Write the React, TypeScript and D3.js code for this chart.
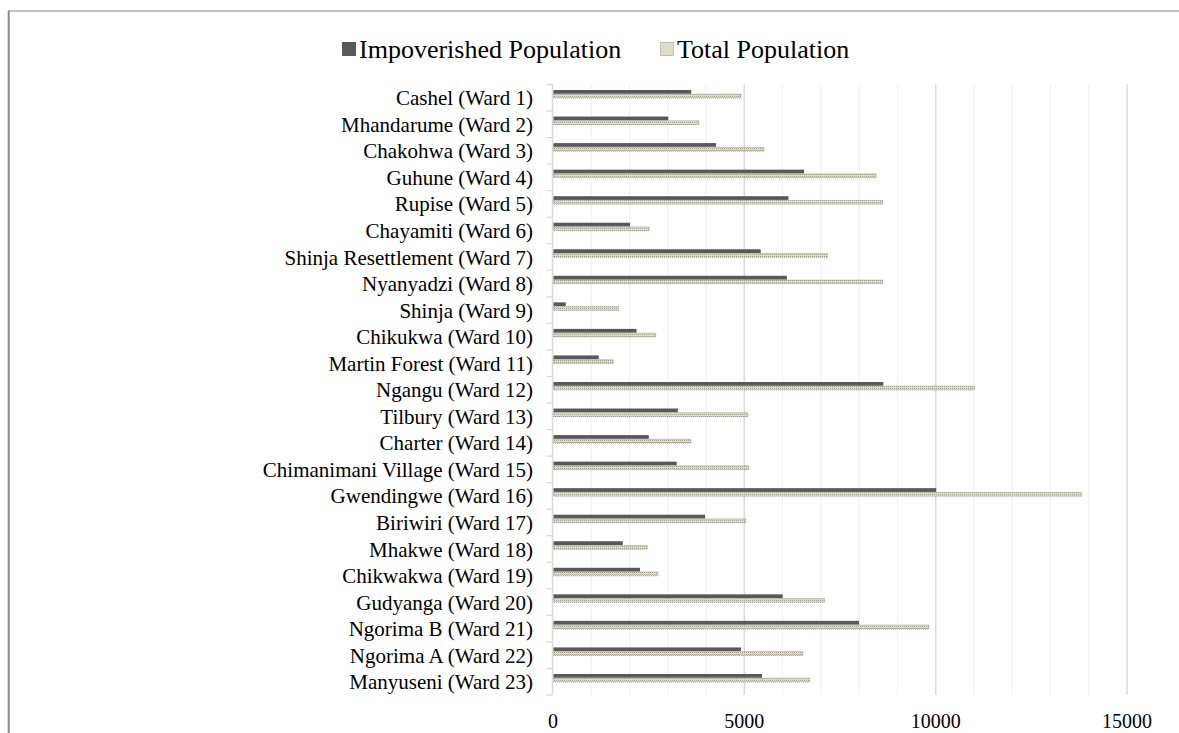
import React from "react";
import * as d3 from "d3";

const categories: string[] = [
  "Cashel (Ward 1)",
  "Mhandarume (Ward 2)",
  "Chakohwa (Ward 3)",
  "Guhune (Ward 4)",
  "Rupise (Ward 5)",
  "Chayamiti (Ward 6)",
  "Shinja Resettlement (Ward 7)",
  "Nyanyadzi (Ward 8)",
  "Shinja (Ward 9)",
  "Chikukwa (Ward 10)",
  "Martin Forest (Ward 11)",
  "Ngangu (Ward 12)",
  "Tilbury (Ward 13)",
  "Charter (Ward 14)",
  "Chimanimani Village (Ward 15)",
  "Gwendingwe (Ward 16)",
  "Biriwiri (Ward 17)",
  "Mhakwe (Ward 18)",
  "Chikwakwa (Ward 19)",
  "Gudyanga (Ward 20)",
  "Ngorima B (Ward 21)",
  "Ngorima A (Ward 22)",
  "Manyuseni (Ward 23)",
];

const impoverished: number[] = [
  3600, 3000, 4250, 6550, 6140, 2000, 5415, 6100, 320, 2170, 1180, 8620,
  3250, 2490, 3220, 10000, 3960, 1810, 2260, 5990, 7985, 4900, 5450,
];

const totalPop: number[] = [
  4900, 3800, 5500, 8430, 8600, 2500, 7157, 8600, 1700, 2670, 1560, 11000,
  5080, 3590, 5100, 13800, 5020, 2450, 2730, 7080, 9810, 6520, 6700,
];

const seriesNames: string[] = ["Impoverished Population", "Total Population"];
const xTicks: number[] = [0, 5000, 10000, 15000];

const W = 1179;
const H = 733;
const TOP = 84.5;
const BOTTOM = 695;
const FONT = "'Liberation Serif', 'Times New Roman', serif";

export default function App() {
  const x = d3.scaleLinear().domain([0, 15000]).range([553, 1127]);
  const y = d3
    .scaleBand<string>()
    .domain(categories)
    .range([TOP, BOTTOM])
    .paddingInner(0)
    .paddingOuter(0);
  const bw = y.bandwidth();
  const sub = d3
    .scaleBand<string>()
    .domain(seriesNames)
    .range([5.5, 13.5])
    .paddingInner(0.12);

  const minor = d3.range(1000, 15000, 1000).filter((v) => v % 5000 !== 0);
  const major = [5000, 10000, 15000];
  const boundaries = d3.range(categories.length + 1).map((i) => TOP + i * bw);

  return (
    <svg
      width={W}
      height={H}
      style={{ position: "absolute", left: 0, top: 0, display: "block", background: "#fff" }}
      fontFamily={FONT}
    >
      <defs>
        <pattern id="dots" width="2" height="2" patternUnits="userSpaceOnUse">
          <rect width="2" height="2" fill="#e0dccb" />
          <rect width="1" height="1" fill="#a9a590" />
        </pattern>
      </defs>

      {/* outer frame */}
      <line x1={8} x2={W} y1={11} y2={11} stroke="#8a8a8a" strokeWidth={1.2} />
      <line x1={8.7} x2={8.7} y1={10.5} y2={H} stroke="#8a8a8a" strokeWidth={2} />

      {/* legend */}
      <rect x={342} y={42} width={14} height={14} fill="#595959" />
      <text x={359} y={58} fontSize={26} fill="#000">
        {seriesNames[0]}
      </text>
      <rect
        x={660.5}
        y={42.5}
        width={13}
        height={13}
        fill="#e0dccb"
        stroke="#7a7a7a"
        strokeWidth={0.8}
        strokeDasharray="1 1"
      />
      <text x={677} y={58} fontSize={26} fill="#000">
        {seriesNames[1]}
      </text>

      {/* gridlines */}
      {minor.map((v) => (
        <line
          key={"mi" + v}
          x1={x(v)}
          x2={x(v)}
          y1={TOP}
          y2={BOTTOM}
          stroke="#f0f0f0"
          strokeWidth={1}
        />
      ))}
      {major.map((v) => (
        <line
          key={"ma" + v}
          x1={x(v)}
          x2={x(v)}
          y1={TOP}
          y2={BOTTOM}
          stroke="#d9d9d9"
          strokeWidth={1.5}
        />
      ))}

      {/* y axis */}
      <line x1={552.5} x2={552.5} y1={TOP} y2={BOTTOM} stroke="#d9d9d9" strokeWidth={1.5} />
      {boundaries.map((b, i) => (
        <line key={"t" + i} x1={546.5} x2={552.5} y1={b} y2={b} stroke="#d9d9d9" strokeWidth={1.2} />
      ))}

      {/* bars */}
      {categories.map((c, i) => {
        const y0 = y(c) as number;
        return (
          <g key={c}>
            <rect
              x={x(0) + 0.5}
              y={y0 + (sub(seriesNames[0]) as number)}
              width={x(impoverished[i]) - x(0)}
              height={sub.bandwidth()}
              fill="#595959"
            />
            <rect
              x={x(0) + 0.5}
              y={y0 + (sub(seriesNames[1]) as number)}
              width={x(totalPop[i]) - x(0)}
              height={sub.bandwidth()}
              fill="url(#dots)"
              stroke="#6e6e6e"
              strokeWidth={0.7}
              strokeDasharray="1 1"
            />
          </g>
        );
      })}

      {/* category labels */}
      {categories.map((c) => (
        <text
          key={"l" + c}
          x={533}
          y={(y(c) as number) + bw / 2 + 7.5}
          textAnchor="end"
          fontSize={21}
          fill="#000"
        >
          {c}
        </text>
      ))}

      {/* x tick labels */}
      {xTicks.map((v) => (
        <text key={"x" + v} x={x(v)} y={728} textAnchor="middle" fontSize={20} fill="#000">
          {v}
        </text>
      ))}
    </svg>
  );
}
